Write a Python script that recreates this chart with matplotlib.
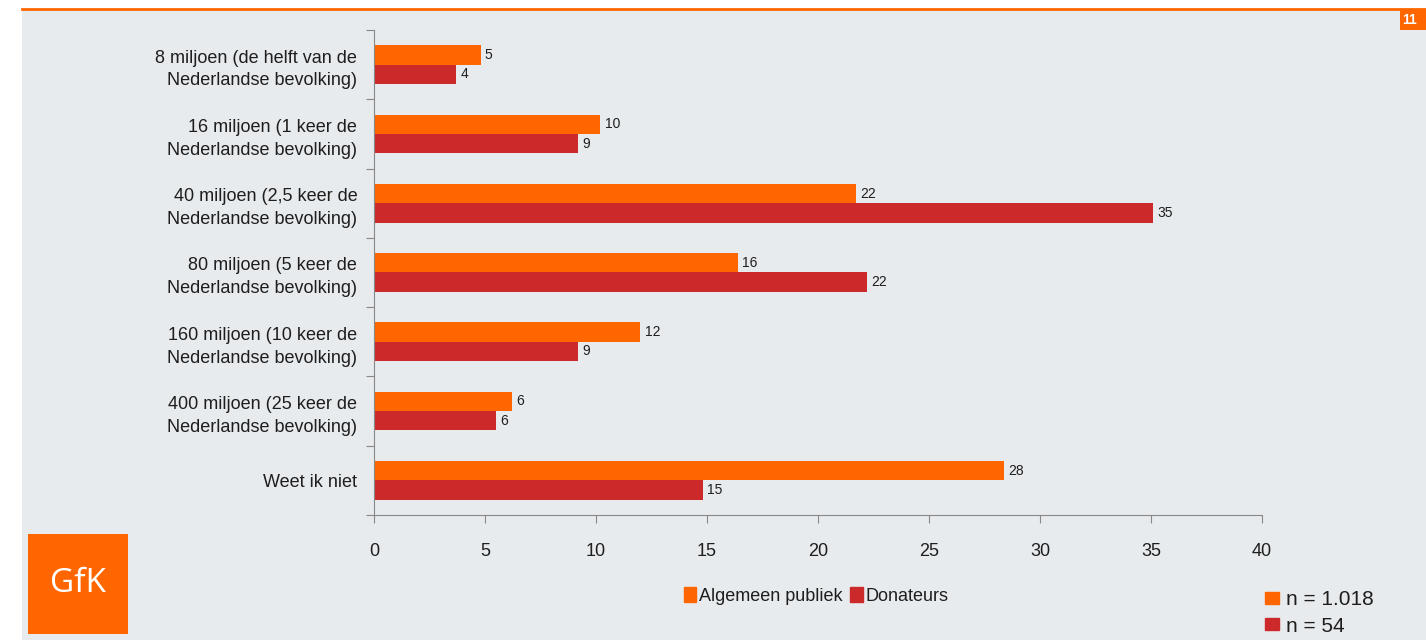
import matplotlib.pyplot as plt
from matplotlib.patches import Rectangle, Patch

# Data
categories = [
    "8 miljoen (de helft van de\nNederlandse bevolking)",
    "16 miljoen (1 keer de\nNederlandse bevolking)",
    "40 miljoen (2,5 keer de\nNederlandse bevolking)",
    "80 miljoen (5 keer de\nNederlandse bevolking)",
    "160 miljoen (10 keer de\nNederlandse bevolking)",
    "400 miljoen (25 keer de\nNederlandse bevolking)",
    "Weet ik niet",
]
algemeen = [4.8, 10.2, 21.7, 16.4, 12.0, 6.2, 28.4]
donateurs = [3.7, 9.2, 35.1, 22.2, 9.2, 5.5, 14.8]
series_names = ["Algemeen publiek", "Donateurs"]
sample_sizes = ["n = 1.018", "n = 54"]
xticks = [0, 5, 10, 15, 20, 25, 30, 35, 40]

ORANGE = "#ff6600"
RED = "#cc292b"
BG = "#e8ebed"
TXT = "#1e1e1e"

plt.rcParams['font.family'] = ['Liberation Sans', 'DejaVu Sans']

fig = plt.figure(figsize=(14.26, 6.4), dpi=100)
fig.patch.set_facecolor("white")

# gray panel + orange top line
fig.patches.append(Rectangle((22/1426, 0), 1 - 22/1426, 1 - 10/640, transform=fig.transFigure,
                             facecolor=BG, edgecolor="none", zorder=-5))
fig.add_artist(plt.Line2D([22/1426, 1], [1 - 9/640, 1 - 9/640], transform=fig.transFigure,
                          color=ORANGE, lw=2))
# page number box
fig.patches.append(Rectangle((1400/1426, 1 - 30/640), 26/1426, 20/640, transform=fig.transFigure,
                             facecolor=ORANGE, edgecolor="none", zorder=1))
fig.text(1402/1426, 1 - 20/640, "11", color="white", fontsize=10, fontweight="bold",
         va="center", ha="left")

# GfK logo
fig.patches.append(Rectangle((28/1426, 6/640), 100/1426, 100/640, transform=fig.transFigure,
                             facecolor=ORANGE, edgecolor="none", zorder=1))
fig.text(78/1426, 56/640, "GfK", color="white", fontsize=24, ha="center", va="center",
         family=["Open Sans", "DejaVu Sans"])

ax = fig.add_axes([374/1426, 1 - 515/640, (1262 - 374)/1426, (515 - 30)/640])
ax.set_facecolor("none")
ax.set_zorder(3)

n = len(categories)
ypos = list(range(n))
h = 0.28
b1 = ax.barh([y - h/2 for y in ypos], algemeen, height=h, color=ORANGE)
b2 = ax.barh([y + h/2 for y in ypos], donateurs, height=h, color=RED)
ax.bar_label(b1, labels=[f"{v:.0f}" for v in algemeen], padding=3, fontsize=10, color=TXT)
ax.bar_label(b2, labels=[f"{v:.0f}" for v in donateurs], padding=3, fontsize=10, color=TXT)

ax.set_ylim(n - 0.5, -0.5)
ax.set_xlim(0, 40)
ax.set_xticks(xticks)
ax.tick_params(axis="x", labelsize=13, colors="#888888", labelcolor=TXT, length=6, pad=14)

ax.set_yticks([y - 0.5 for y in range(n + 1)])
ax.set_yticklabels([])
ax.set_yticks(ypos, minor=True)
ax.set_yticklabels(categories, minor=True, fontsize=13, color=TXT, ha="right", linespacing=1.45)
ax.tick_params(axis="y", which="major", length=6, colors="#888888")
ax.tick_params(axis="y", which="minor", length=0, pad=12)

for s in ["top", "right"]:
    ax.spines[s].set_visible(False)
ax.spines["left"].set_color("#888888")
ax.spines["bottom"].set_color("#888888")

# series legend
handles = [Patch(color=ORANGE), Patch(color=RED)]
fig.legend(handles, series_names, loc="center", bbox_to_anchor=(816/1426, 1 - 596/640),
           ncol=2, frameon=False, fontsize=13, handlelength=0.7, handleheight=0.9,
           handletextpad=0.15, columnspacing=0.4, labelcolor=TXT)

# sample sizes legend
fig.legend(handles, sample_sizes, loc="center left", bbox_to_anchor=(1246/1426, 1 - 613/640),
           ncol=1, frameon=False, fontsize=15, handlelength=0.7, handleheight=0.5,
           handletextpad=0.3, labelspacing=0.35, labelcolor=TXT)

fig.savefig("out.png", dpi=100, facecolor=fig.get_facecolor())
